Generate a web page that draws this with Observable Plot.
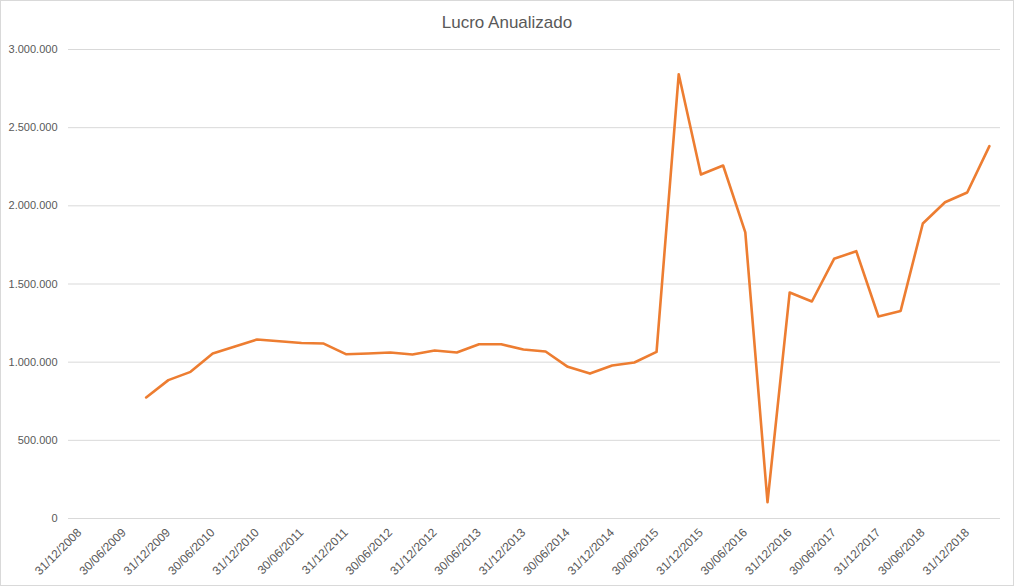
<!DOCTYPE html>
<html>
<head>
<meta charset="utf-8">
<script src="https://cdn.jsdelivr.net/npm/d3@7"></script>
<script src="https://cdn.jsdelivr.net/npm/@observablehq/plot@0.6"></script>
<style>
  html, body { margin: 0; padding: 0; background: #fff; }
  #wrap { position: relative; width: 1014px; height: 586px; overflow: hidden; font-family: "Liberation Sans", Arial, sans-serif; }
  #title { position: absolute; left: 0; top: 13px; width: 1014px; text-align: center; font-size: 17px; color: #595959; }
  #frame { position: absolute; left: 0; top: 0; width: 1012px; height: 584px; border: 1px solid #d9d9d9; pointer-events: none; }
  svg { position: absolute; left: 0; top: 0; }
</style>
</head>
<body>
<div id="wrap">
  <div id="chart"></div>
  <div id="title">Lucro Anualizado</div>
  <div id="frame"></div>
</div>
<script>
// Quarter-end dates (categories)
const dates = [
  "31/12/2008","31/03/2009","30/06/2009","30/09/2009",
  "31/12/2009","31/03/2010","30/06/2010","30/09/2010",
  "31/12/2010","31/03/2011","30/06/2011","30/09/2011",
  "31/12/2011","31/03/2012","30/06/2012","30/09/2012",
  "31/12/2012","31/03/2013","30/06/2013","30/09/2013",
  "31/12/2013","31/03/2014","30/06/2014","30/09/2014",
  "31/12/2014","31/03/2015","30/06/2015","30/09/2015",
  "31/12/2015","31/03/2016","30/06/2016","30/09/2016",
  "31/12/2016","31/03/2017","30/06/2017","30/09/2017",
  "31/12/2017","31/03/2018","30/06/2018","30/09/2018",
  "31/12/2018","31/03/2019"
];
// Annualized profit values (null = no data)
const lucro = [
  null, null, null, 774000,
  885000, 938000, 1055000, 1100000,
  1145000, 1134000, 1123000, 1119000,
  1051000, 1055000, 1062000, 1049000,
  1075000, 1062000, 1115000, 1115000,
  1081000, 1068000, 970000, 927000,
  979000, 998000, 1066000, 2842000,
  2200000, 2258000, 1830000, 104000,
  1446000, 1388000, 1661000, 1710000,
  1292000, 1328000, 1887000, 2023000,
  2085000, 2382000
];
const yTicks = [0, 500000, 1000000, 1500000, 2000000, 2500000, 3000000];
const xTickLabels = dates.filter((d, i) => i % 2 === 0);

const data = dates.map((d, i) => ({date: d, value: lucro[i]}));
const ptBR = d3.formatLocale({decimal: ",", thousands: ".", grouping: [3], currency: ["R$", ""]});
const fmt = ptBR.format(",.0f");

const chart = Plot.plot({
  width: 1014,
  height: 586,
  marginLeft: 68,
  marginRight: 14,
  marginTop: 49,
  marginBottom: 68,
  style: {fontFamily: "Liberation Sans, Arial, sans-serif", fontSize: "11px", color: "#595959", background: "transparent"},
  x: {type: "point", domain: dates, padding: 0.5, align: 0.5, round: false, label: null},
  y: {domain: [0, 3000000], label: null},
  marks: [
    Plot.gridY(yTicks, {stroke: "#d9d9d9", strokeOpacity: 1, strokeWidth: 1}),
    Plot.axisY(yTicks, {tickSize: 0, tickPadding: 11, tickFormat: fmt, label: null, fill: "#595959", fontSize: 11}),
    Plot.axisX(xTickLabels, {tickSize: 0, tickPadding: 12, tickRotate: -45, label: null, fill: "#595959", fontSize: 12}),
    Plot.line(data, {x: "date", y: "value", stroke: "#ED7D31", strokeWidth: 2.6, strokeLinejoin: "round", curve: "linear"})
  ]
});
document.getElementById("chart").appendChild(chart);
</script>
</body>
</html>
